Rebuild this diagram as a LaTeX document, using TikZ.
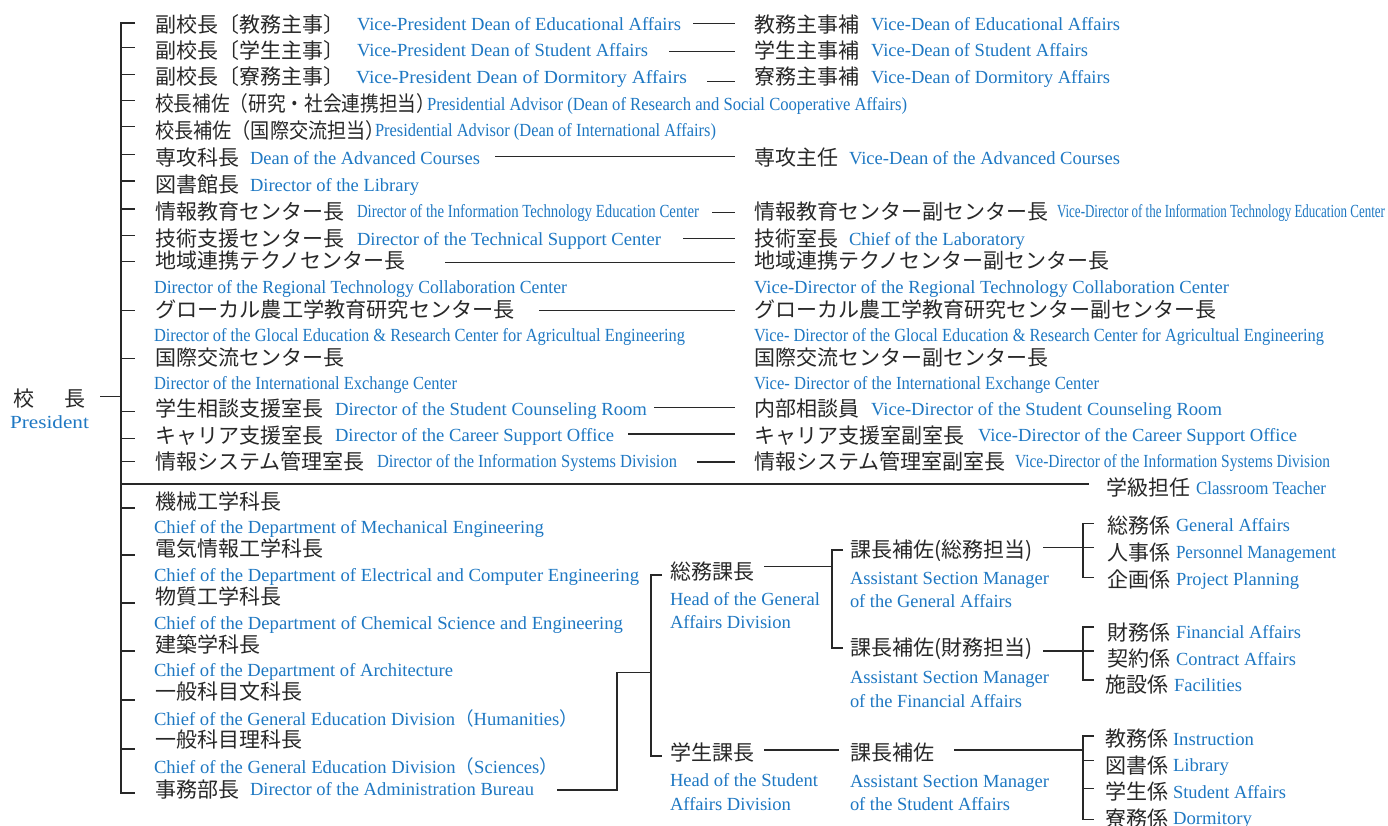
\documentclass[tikz,border=0pt]{standalone}
\usepackage{fontspec}
\setmainfont{Liberation Serif}
\newfontfamily\jpf{Noto Sans CJK JP}
\usepackage{graphicx}
\definecolor{eblue}{RGB}{30,120,195}
\definecolor{jtxt}{RGB}{40,40,40}
\newsavebox\fitbox
\newcommand\fitw[2]{\sbox\fitbox{#2}\pgfmathsetmacro\fitfac{#1/\the\wd\fitbox}\scalebox{\fitfac}[1]{\usebox\fitbox}}
\newcommand\JT[4]{\node[jp] (#1) at (#2,#3) {#4};}
\newcommand\JS[5]{\node[jp] (#1) at (#2,#3) {\fitw{#4}{#5}};}
\newcommand\ET[5]{\node[en] (#1) at (#2,#3) {\fitw{#4}{#5}};}
\newcommand\fp[1]{{\jpf #1}}
\tikzset{
  jp/.style={anchor=base west, inner sep=0pt, outer sep=0pt, yshift=-1.5pt, font=\jpf\fontsize{21}{24}\selectfont, text=jtxt},
  en/.style={anchor=base west, inner sep=0pt, outer sep=0pt, font=\fontsize{18.5}{20}\selectfont, text=eblue},
  ln/.style={line width=1.3pt, draw=jtxt}
}
\begin{document}
\begin{tikzpicture}[x=1pt,y=-1pt]
\useasboundingbox (0,0) rectangle (1388,826);
\fill[white] (0,0) rectangle (1388,826);
% President
\JT{pj}{13}{404.5}{校\hspace{31pt}長}
\ET{pe}{10}{428}{79}{President}
% top block left
\JT{l1j}{155}{30.7}{副校長〔教務主事〕}
\ET{l1e}{357}{30.7}{324}{Vice-President Dean of Educational Affairs}
\JT{l2j}{155}{57}{副校長〔学生主事〕}
\ET{l2e}{357}{57}{291}{Vice-President Dean of Student Affairs}
\JT{l3j}{155}{83.5}{副校長〔寮務主事〕}
\ET{l3e}{356}{83.5}{331}{Vice-President Dean of Dormitory Affairs}
\JS{l4j}{155}{110.5}{280}{校長補佐（研究・社会連携担当）}
\ET{l4e}{427}{110.5}{480}{Presidential Advisor (Dean of Research and Social Cooperative Affairs)}
\JS{l5j}{155}{137}{230}{校長補佐（国際交流担当）}
\ET{l5e}{375}{137}{341}{Presidential Advisor (Dean of International Affairs)}
\JT{l6j}{155}{164.5}{専攻科長}
\ET{l6e}{250}{164.5}{230}{Dean of the Advanced Courses}
\JT{l7j}{155}{191.5}{図書館長}
\ET{l7e}{250}{191.5}{169}{Director of the Library}
\JT{l8j}{155}{218}{情報教育センター長}
\ET{l8e}{357}{218}{342}{Director of the Information Technology Education Center}
\JT{l9j}{155}{245}{技術支援センター長}
\ET{l9e}{357}{245}{304}{Director of the Technical Support Center}
\JT{l10j}{155}{266.5}{地域連携テクノセンター長}
\ET{l11e}{154}{293}{413}{Director of the Regional Technology Collaboration Center}
\JS{l12j}{155}{315.5}{360}{グローカル農工学教育研究センター長}
\ET{l13e}{154}{341}{531}{Director of the Glocal Education \& Research Center for Agricultual Engineering}
\JT{l14j}{155}{363.5}{国際交流センター長}
\ET{l15e}{154}{389}{303}{Director of the International Exchange Center}
\JT{l16j}{155}{415}{学生相談支援室長}
\ET{l16e}{335}{415}{312}{Director of the Student Counseling Room}
\JT{l17j}{155}{441.5}{キャリア支援室長}
\ET{l17e}{335}{441.5}{279}{Director of the Career Support Office}
\JT{l18j}{155}{467.5}{情報システム管理室長}
\ET{l18e}{377}{467.5}{300}{Director of the Information Systems Division}
% top block right
\JT{r1j}{754}{30.7}{教務主事補}
\ET{r1e}{871}{30.7}{249}{Vice-Dean of Educational Affairs}
\JT{r2j}{754}{57}{学生主事補}
\ET{r2e}{871}{57}{217}{Vice-Dean of Student Affairs}
\JT{r3j}{754}{83.5}{寮務主事補}
\ET{r3e}{871}{83.5}{239}{Vice-Dean of Dormitory Affairs}
\JT{r6j}{754}{164.5}{専攻主任}
\ET{r6e}{849}{164.5}{271}{Vice-Dean of the Advanced Courses}
\JT{r8j}{754}{218}{情報教育センター副センター長}
\ET{r8e}{1057}{218}{328}{Vice-Director of the Information Technology Education Center}
\JT{r9j}{754}{245}{技術室長}
\ET{r9e}{849}{245}{176}{Chief of the Laboratory}
\JT{r10j}{754}{266.5}{地域連携テクノセンター副センター長}
\ET{r11e}{754}{293}{475}{Vice-Director of the Regional Technology Collaboration Center}
\JT{r12j}{754}{315.5}{グローカル農工学教育研究センター副センター長}
\ET{r13e}{754}{341}{570}{Vice- Director of the Glocal Education \& Research Center for Agricultual Engineering}
\JT{r14j}{754}{363.5}{国際交流センター副センター長}
\ET{r15e}{754}{389}{345}{Vice- Director of the International Exchange Center}
\JT{r16j}{754}{415}{内部相談員}
\ET{r16e}{871}{415}{351}{Vice-Director of the Student Counseling Room}
\JT{r17j}{754}{441.5}{キャリア支援室副室長}
\ET{r17e}{978}{441.5}{319}{Vice-Director of the Career Support Office}
\JT{r18j}{754}{467.5}{情報システム管理室副室長}
\ET{r18e}{1015}{467.5}{315}{Vice-Director of the Information Systems Division}
\JT{ctj}{1106}{494}{学級担任}
\ET{cte}{1196}{494}{130}{Classroom Teacher}
% bottom left
\JT{b1j}{155}{507.5}{機械工学科長}
\ET{b1e}{154}{533.3}{390}{Chief of the Department of Mechanical Engineering}
\JT{b2j}{155}{554.5}{電気情報工学科長}
\ET{b2e}{154}{581}{485}{Chief of the Department of Electrical and Computer Engineering}
\JT{b3j}{155}{602.5}{物質工学科長}
\ET{b3e}{154}{629}{469}{Chief of the Department of Chemical Science and Engineering}
\JT{b4j}{155}{650.5}{建築学科長}
\ET{b4e}{154}{676.7}{299}{Chief of the Department of Architecture}
\JT{b5j}{155}{698}{一般科目文科長}
\ET{b5e}{154}{725}{424}{Chief of the General Education Division\fp{（}Humanities\fp{）}}
\JT{b6j}{155}{745.5}{一般科目理科長}
\ET{b6e}{154}{773.3}{404}{Chief of the General Education Division\fp{（}Sciences\fp{）}}
\JT{b7j}{155}{795.5}{事務部長}
\ET{b7e}{250}{795.5}{284}{Director of the Administration Bureau}
% middle
\JT{gaj}{670}{577.5}{総務課長}
\ET{gae1}{670}{605}{150}{Head of the General}
\ET{gae2}{670}{628}{121}{Affairs Division}
\JT{saj}{670}{759}{学生課長}
\ET{sae1}{670}{786}{148}{Head of the Student}
\ET{sae2}{670}{810}{121}{Affairs Division}
\JT{a1j}{850}{555.5}{課長補佐(総務担当)}
\ET{a1e1}{850}{584}{199}{Assistant Section Manager}
\ET{a1e2}{850}{607}{162}{of the General Affairs}
\JT{a2j}{850}{654}{課長補佐(財務担当)}
\ET{a2e1}{850}{683}{199}{Assistant Section Manager}
\ET{a2e2}{850}{707}{172}{of the Financial Affairs}
\JT{a3j}{850}{759}{課長補佐}
\ET{a3e1}{850}{787}{199}{Assistant Section Manager}
\ET{a3e2}{850}{810}{160}{of the Student Affairs}
% level 4
\JT{k1j}{1107}{531.5}{総務係}
\ET{k1e}{1176}{531.5}{114}{General Affairs}
\JT{k2j}{1107}{558.5}{人事係}
\ET{k2e}{1176}{558.5}{160}{Personnel Management}
\JT{k3j}{1107}{585.5}{企画係}
\ET{k3e}{1176}{585.5}{123}{Project Planning}
\JT{k4j}{1107}{638.5}{財務係}
\ET{k4e}{1176}{638.5}{125}{Financial Affairs}
\JT{k5j}{1107}{665}{契約係}
\ET{k5e}{1176}{665}{120}{Contract Affairs}
\JT{k6j}{1105}{691}{施設係}
\ET{k6e}{1174}{691}{68}{Facilities}
\JT{k7j}{1105}{745}{教務係}
\ET{k7e}{1173}{745}{81}{Instruction}
\JT{k8j}{1105}{771.5}{図書係}
\ET{k8e}{1173}{771.5}{56}{Library}
\JT{k9j}{1105}{798}{学生係}
\ET{k9e}{1173}{798}{113}{Student Affairs}
\JT{k10j}{1105}{824.5}{寮務係}
\ET{k10e}{1173}{824.5}{79}{Dormitory}
% connectors
\coordinate (trunkT) at (121,23);
\coordinate (trunkB) at (121,793);
\draw[ln] (135,23) -- (trunkT) -- (trunkB) -- (135,793);
\foreach \yy in {47.7,74.3,100.7,126.7,154.3,181,209,235.3,261.7,310.7,358.3,411.7,438.3,461.7,508,555,603,651,700,749}
  \draw[ln] (121,\yy) -- (135,\yy);
\draw[ln] (100,396.7) -- (121,396.7);
\draw[ln] (121,484) -- (1089,484);
\draw[ln] (693,23.3) -- (735,23.3);
\draw[ln] (669,51.7) -- (735,51.7);
\draw[ln] (707,81.7) -- (735,81.7);
\draw[ln] (495,156.7) -- (735,156.7);
\draw[ln] (712,212.3) -- (735,212.3);
\draw[ln] (683,238.3) -- (735,238.3);
\draw[ln] (445,262.7) -- (735,262.7);
\draw[ln] (539,310.7) -- (735,310.7);
\draw[ln] (654,407.3) -- (735,407.3);
\draw[ln] (628,434) -- (735,434);
\draw[ln] (697,462) -- (735,462);
% admin tree
\draw[ln] (557,790) -- (617,790) -- (617,672.7) -- (651,672.7);
\draw[ln] (662,575) -- (651,575) -- (651,756) -- (662,756);
\draw[ln] (764,566.7) -- (832,566.7);
\draw[ln] (843,550) -- (832,550) -- (832,648) -- (843,648);
\draw[ln] (764,750) -- (839,750);
\draw[ln] (1043,547.7) -- (1094,547.7);
\draw[ln] (1094,523.3) -- (1083,523.3) -- (1083,577.3) -- (1094,577.3);
\draw[ln] (1043,651) -- (1094,651);
\draw[ln] (1094,627) -- (1083,627) -- (1083,680) -- (1094,680);
\draw[ln] (954,750) -- (1083,750);
\draw[ln] (1094,736) -- (1083,736) -- (1083,819.3) -- (1094,819.3);
\draw[ln] (1083,760.7) -- (1094,760.7);
\draw[ln] (1083,788.3) -- (1094,788.3);
\end{tikzpicture}
\end{document}
